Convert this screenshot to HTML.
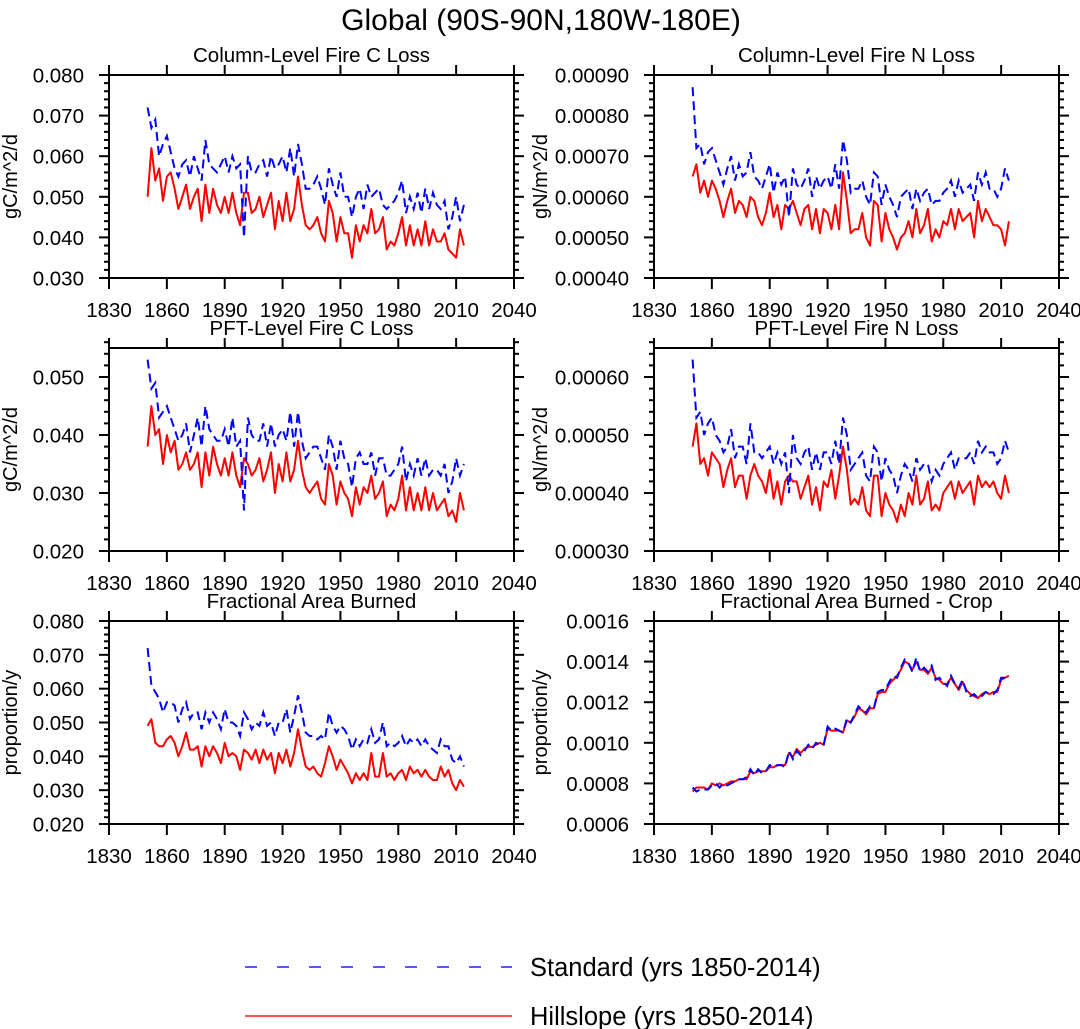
<!DOCTYPE html>
<html><head><meta charset="utf-8"><style>
html,body{margin:0;padding:0;background:#fff;}
svg{display:block;font-family:"Liberation Sans",Arial,sans-serif;}
</style></head><body>
<svg id="chart" width="1080" height="1029" viewBox="0 0 1080 1029" xmlns="http://www.w3.org/2000/svg">
<text x="541" y="30" font-size="30" text-anchor="middle">Global (90S-90N,180W-180E)</text>
<g>
<line x1="245" y1="967" x2="512" y2="967" stroke="#2020ff" stroke-width="1.5" stroke-dasharray="12,20"/>
<text x="530" y="976" font-size="25.5">Standard (yrs 1850-2014)</text>
<line x1="245" y1="1016" x2="512" y2="1016" stroke="#ff2020" stroke-width="1.5"/>
<text x="530" y="1025" font-size="25.5">Hillslope (yrs 1850-2014)</text>
</g>
</svg>
<script>
// Years: every second year 1850..2014
const years = [];
for (let y = 1850; y <= 2014; y += 2) years.push(y);
const xTickYears = [1830,1860,1890,1920,1950,1980,2010,2040];

// Column-Level Fire C Loss (gC/m^2/d)
const colCStandard = [.072,.067,.069,.060,.063, .065,.061,.057,.055,.058, .059,.055,.060,.057,.054, .064,.058,.057,.056,.058, .060,.056,.060,.057,.058, .040,.060,.056,.056,.058, .059,.055,.060,.057,.058, .060,.056,.062,.055,.063, .058,.052,.052,.053,.055, .052,.048,.057,.053,.050, .056,.050,.050,.045,.050, .052,.047,.053,.050,.051, .052,.048,.047,.048,.049, .051,.054,.046,.050,.047, .051,.046,.052,.047,.051, .048,.047,.049,.042,.045, .050,.044,.048];
const colCHillslope = [.050,.062,.054,.057,.049, .055,.056,.052,.047,.050, .053,.047,.050,.052,.044, .053,.046,.052,.048,.046, .050,.046,.051,.046,.043, .051,.051,.046,.047,.050, .045,.048,.051,.042,.049, .044,.051,.044,.047,.055, .048,.043,.042,.043,.045, .041,.039,.049,.046,.039, .045,.041,.041,.035,.043, .039,.043,.041,.047,.041, .042,.045,.037,.039,.038, .041,.045,.038,.043,.038, .042,.038,.044,.038,.042, .039,.039,.041,.037,.036, .035,.042,.038];
const colCTicks = ["0.030","0.040","0.050","0.060","0.070","0.080"];

// Column-Level Fire N Loss (units of 1e-5 gN/m^2/d)
const colNStandard = [87,72,73,68,71, 72,69,66,63,67, 70,64,68,65,66, 71,65,64,62,65, 68,61,66,63,65, 55,67,63,62,64, 67,60,65,62,64, 65,62,68,62,74, 69,61,62,62,64, 60,58,66,65,58, 63,60,58,55,60, 61,62,57,62,59, 61,62,58,59,59, 61,62,64,60,64, 61,62,63,59,66, 63,66,62,62,60, 62,67,64];
const colNHillslope = [65,68,61,64,60, 64,62,59,55,59, 62,56,59,58,55, 60,59,55,53,56, 61,55,58,52,58, 57,59,56,53,57, 58,52,57,51,57, 56,52,58,52,66, 59,51,52,52,56, 50,48,59,58,49, 56,52,50,47,50, 51,54,50,57,51, 53,57,49,52,50, 54,53,57,52,57, 54,55,56,50,59, 54,57,55,53,53, 52,48,54];
const colNTicks = ["0.00040","0.00050","0.00060","0.00070","0.00080","0.00090"];

// PFT-Level Fire C Loss
const pftCStandard = [.053,.048,.049,.043,.044, .045,.043,.041,.039,.040, .042,.037,.040,.043,.038, .045,.041,.040,.039,.039, .041,.038,.043,.038,.039, .027,.043,.040,.039,.039, .042,.038,.042,.038,.040, .041,.039,.044,.038,.044, .039,.036,.037,.038,.038, .036,.034,.040,.038,.034, .039,.036,.035,.031,.036, .037,.035,.035,.037,.033, .036,.036,.033,.033,.034, .035,.038,.032,.035,.033, .036,.033,.036,.033,.034, .034,.033,.035,.030,.032, .036,.033,.035];
const pftCHillslope = [.038,.045,.040,.041,.035, .040,.037,.039,.034,.035, .037,.034,.035,.037,.031, .037,.033,.038,.035,.033, .036,.033,.037,.033,.031, .036,.035,.033,.034,.036, .032,.034,.037,.030,.035, .032,.037,.032,.034,.039, .034,.031,.030,.031,.032, .029,.028,.035,.033,.028, .032,.030,.029,.026,.031, .028,.031,.030,.033,.029, .030,.032,.026,.028,.027, .029,.033,.027,.031,.027, .030,.027,.031,.027,.030, .027,.028,.029,.026,.027, .025,.030,.027];
const pftCTicks = ["0.020","0.030","0.040","0.050"];

// PFT-Level Fire N Loss (units of 1e-5)
const pftNStandard = [63,53,54,50,52, 53,50,49,47,48, 51,46,48,48,45, 52,47,47,46,47, 48,45,47,45,47, 40,50,46,45,47, 48,44,47,44,47, 47,45,49,45,53, 50,44,45,46,47, 43,42,48,47,42, 46,44,43,40,43, 45,44,42,46,44, 45,45,42,44,43, 45,46,47,44,46, 46,46,47,45,49, 47,48,47,47,45, 46,49,47];
const pftNHillslope = [48,52,45,46,43, 47,46,45,41,44, 46,41,43,43,39, 43,45,43,42,40, 44,39,42,38,42, 43,42,42,39,41, 43,38,41,37,42, 41,44,39,43,48, 44,38,39,38,41, 37,36,43,43,36, 40,38,37,35,38, 36,40,38,43,38, 39,42,37,38,37, 40,41,42,39,42, 40,41,42,38,43, 41,42,41,42,40, 39,43,40];
const pftNTicks = ["0.00030","0.00040","0.00050","0.00060"];

// Fractional Area Burned
const fabStandard = [.072,.061,.059,.057,.053, .056,.056,.055,.050,.054, .056,.051,.053,.053,.048, .053,.050,.053,.051,.048, .054,.050,.050,.049,.046, .053,.051,.048,.050,.049, .053,.049,.050,.046,.050, .050,.054,.047,.052,.058, .053,.047,.046,.046,.045, .046,.045,.053,.049,.047, .049,.048,.046,.042,.045, .043,.045,.044,.048,.044, .045,.050,.043,.044,.043, .044,.046,.043,.045,.044, .045,.043,.045,.043,.042, .041,.045,.043,.043,.039, .038,.040,.037];
const fabHillslope = [.049,.051,.044,.043,.043, .045,.046,.044,.040,.043, .047,.042,.042,.043,.037, .043,.040,.043,.041,.038, .044,.040,.041,.040,.036, .042,.041,.039,.042,.038, .042,.039,.041,.035,.041, .038,.042,.037,.041,.048, .042,.037,.036,.037,.035, .034,.038,.043,.040,.036, .039,.037,.035,.032,.035, .033,.035,.033,.041,.034, .034,.041,.034,.035,.033, .035,.036,.033,.037,.035, .036,.034,.036,.034,.033, .033,.037,.034,.036,.032, .030,.033,.031];
const fabTicks = ["0.020","0.030","0.040","0.050","0.060","0.070","0.080"];

// Fractional Area Burned - Crop (units of 1e-4)
const cropStandard = [7.8,7.6,7.7,7.7,7.7, 7.9,8.0,7.8,8.0,7.9, 8.0,8.1,8.2,8.2,8.3, 8.7,8.4,8.7,8.5,8.6, 8.9,8.8,8.9,8.9,8.8, 9.6,9.2,9.6,9.4,9.6, 9.9,9.7,10.0,9.9,9.9, 10.8,10.6,10.7,10.6,10.5, 11.2,11.0,11.4,11.8,11.6, 11.5,11.8,11.7,12.5,12.6, 12.6,13.0,13.3,13.2,13.7, 14.1,13.9,13.5,14.2,13.5, 13.7,13.5,13.8,13.1,13.2, 13.0,12.8,13.3,12.9,12.7, 13.1,12.5,12.3,12.4,12.2, 12.3,12.5,12.4,12.4,12.6, 13.2,13.2,13.3];
const cropHillslope = [7.6,7.8,7.8,7.8,7.7, 8.0,7.9,8.0,7.9,8.0, 8.1,8.1,8.2,8.2,8.2, 8.6,8.5,8.6,8.6,8.6, 8.8,8.8,8.9,8.9,8.9, 9.5,9.3,9.7,9.5,9.7, 9.8,9.8,9.9,10.0,9.9, 10.7,10.6,10.6,10.6,10.5, 11.1,11.0,11.3,11.7,11.6, 11.4,11.7,11.7,12.4,12.5, 12.5,12.9,13.1,13.3,13.6, 14.0,13.9,13.6,14.0,13.6, 13.6,13.4,13.7,13.2,13.1, 12.9,12.9,13.2,12.9,12.6, 13.0,12.6,12.4,12.3,12.2, 12.4,12.5,12.4,12.5,12.5, 13.1,13.2,13.3];
const cropTicks = ["0.0006","0.0008","0.0010","0.0012","0.0014","0.0016"];

const NS = "http://www.w3.org/2000/svg";
const svg = document.getElementById("chart");
function mk(tag, attrs, parent) {
  const e = document.createElementNS(NS, tag);
  for (const k in attrs) e.setAttribute(k, attrs[k]);
  (parent || svg).appendChild(e);
  return e;
}

const panels = [
  {key:"col-c", title:"Column-Level Fire C Loss", ylab:"gC/m^2/d", col:0, row:0, yMin:.030, yMax:.080, major:.010, minor:.002, ticks:colCTicks, std:colCStandard, hill:colCHillslope},
  {key:"col-n", title:"Column-Level Fire N Loss", ylab:"gN/m^2/d", col:1, row:0, yMin:40, yMax:90, major:10, minor:2, ticks:colNTicks, std:colNStandard, hill:colNHillslope},
  {key:"pft-c", title:"PFT-Level Fire C Loss", ylab:"gC/m^2/d", col:0, row:1, yMin:.020, yMax:.055, major:.010, minor:.002, ticks:pftCTicks, std:pftCStandard, hill:pftCHillslope},
  {key:"pft-n", title:"PFT-Level Fire N Loss", ylab:"gN/m^2/d", col:1, row:1, yMin:30, yMax:65, major:10, minor:2, ticks:pftNTicks, std:pftNStandard, hill:pftNHillslope},
  {key:"fab", title:"Fractional Area Burned", ylab:"proportion/y", col:0, row:2, yMin:.020, yMax:.080, major:.010, minor:.002, ticks:fabTicks, std:fabStandard, hill:fabHillslope},
  {key:"fab-crop", title:"Fractional Area Burned - Crop", ylab:"proportion/y", col:1, row:2, yMin:6, yMax:16, major:2, minor:0.5, ticks:cropTicks, std:cropStandard, hill:cropHillslope}
];

const W = 405, H = 203;
panels.forEach(p => {
  const x0 = p.col === 0 ? 109 : 654;
  const y0 = 75 + p.row * 273;
  const g = mk("g", {});
  
  
  const xs = yr => x0 + (yr - 1830) / 210 * W;
  const ys = v => y0 + H - (v - p.yMin) / (p.yMax - p.yMin) * H;

  const ptsOf = arr => arr.map((v, i) => xs(years[i]).toFixed(1) + "," + ys(v).toFixed(1)).join(" ");
  const hl = mk("polyline", {points: ptsOf(p.hill), fill:"none", stroke:"#ff0000", "stroke-width":"2", "stroke-linejoin":"round"}, g);
  
  
  const sl = mk("polyline", {points: ptsOf(p.std), fill:"none", stroke:"#0000ff", "stroke-width":"2", "stroke-dasharray":"9,5"}, g);
  
  

  const fr = mk("rect", {x:x0, y:y0, width:W, height:H, fill:"none", stroke:"#000", "stroke-width":"2"}, g);
  
  

  const nMinor = Math.round((p.yMax - p.yMin) / p.minor);
  for (let i = 0; i <= nMinor; i++) {
    const v = p.yMin + i * p.minor;
    const isMajor = Math.abs((v - p.yMin) / p.major - Math.round((v - p.yMin) / p.major)) < 1e-6;
    const len = isMajor ? 10 : 5;
    const yy = ys(v);
    mk("line", {x1:x0 - len, y1:yy, x2:x0, y2:yy, stroke:"#000", "stroke-width":"2"}, g);
    mk("line", {x1:x0 + W, y1:yy, x2:x0 + W + len, y2:yy, stroke:"#000", "stroke-width":"2"}, g);
  }
  p.ticks.forEach((lab, i) => {
    const t = mk("text", {x:x0 - 25, y:ys(p.yMin + i * p.major) + 7.5, "font-size":"20.5", "text-anchor":"end"}, g);
    t.textContent = lab;
    
    
  });
  xTickYears.forEach(yr => {
    const xx = xs(yr);
    mk("line", {x1:xx, y1:y0 + H, x2:xx, y2:y0 + H + 11, stroke:"#000", "stroke-width":"2"}, g);
    mk("line", {x1:xx, y1:y0 - 10, x2:xx, y2:y0, stroke:"#000", "stroke-width":"2"}, g);
    const t = mk("text", {x:xx, y:y0 + H + 39, "font-size":"20.5", "text-anchor":"middle"}, g);
    t.textContent = String(yr);
    
    
  });
  const tt = mk("text", {x:x0 + W / 2, y:y0 - 13, "font-size":"20.5", "text-anchor":"middle"}, g);
  tt.textContent = p.title;
  
  
  const lx = p.col === 0 ? 17 : 547;
  const yl = mk("text", {x:lx, y:y0 + H / 2, "font-size":"20", "text-anchor":"middle", transform:"rotate(-90 " + lx + " " + (y0 + H / 2) + ")"}, g);
  yl.textContent = p.ylab;
  
  
});
</script>
</body></html>
